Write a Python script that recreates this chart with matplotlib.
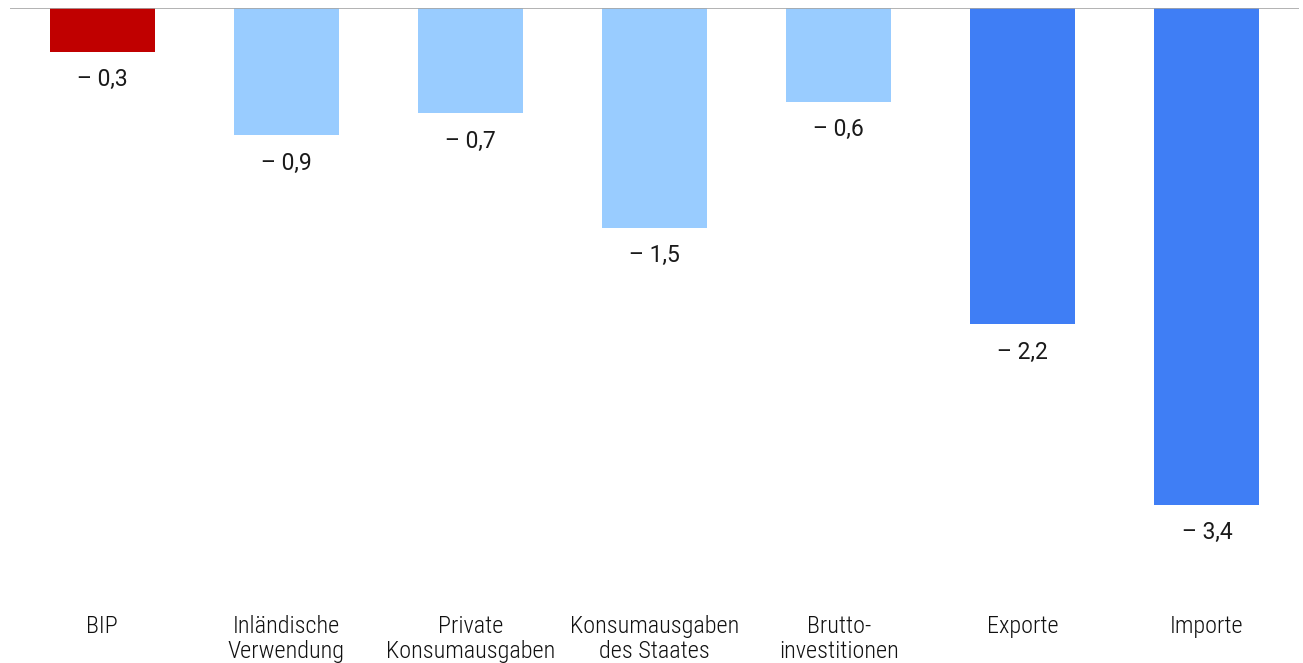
import matplotlib.pyplot as plt

categories = ["BIP", "Inländische\nVerwendung", "Private\nKonsumausgaben",
              "Konsumausgaben\ndes Staates", "Brutto-\ninvestitionen",
              "Exporte", "Importe"]
values = [-0.30, -0.87, -0.72, -1.50, -0.64, -2.16, -3.39]
value_labels = ["– 0,3", "– 0,9", "– 0,7", "– 1,5", "– 0,6", "– 2,2", "– 3,4"]
colors = ["#C00000", "#99CCFF", "#99CCFF", "#99CCFF", "#99CCFF", "#3F7EF5", "#3F7EF5"]

W, H = 1303, 663
fig = plt.figure(figsize=(W / 100, H / 100), dpi=100)
# axes from x=10..1299 px, y=8 (zero line)..600 px
ax = fig.add_axes([10 / W, (H - 600) / H, 1289 / W, 592 / H])

x = range(len(categories))
ax.bar(x, values, width=0.57, color=colors, zorder=2)
ax.axhline(0, color="#A6A6A6", linewidth=1.2, zorder=3)

ax.set_xlim(-0.5, 6.5)
ax.set_ylim(-592 / 146.5, 0)

for xi, v, lab in zip(x, values, value_labels):
    ax.text(xi, v - 0.11, lab, ha="center", va="top", fontsize=16.5,
            family=["Roboto", "Liberation Sans", "DejaVu Sans"],
            color="#1a1a1a")

ax.set_xticks(list(x))
ax.set_xticklabels(categories, fontsize=17.5, fontweight="light",
                   family=["Roboto Condensed", "Liberation Sans", "DejaVu Sans"],
                   color="#111111", linespacing=1.13)
ax.tick_params(axis="x", length=0, pad=10.5)
ax.set_yticks([])
for s in ax.spines.values():
    s.set_visible(False)

fig.savefig("out.png", dpi=100)
